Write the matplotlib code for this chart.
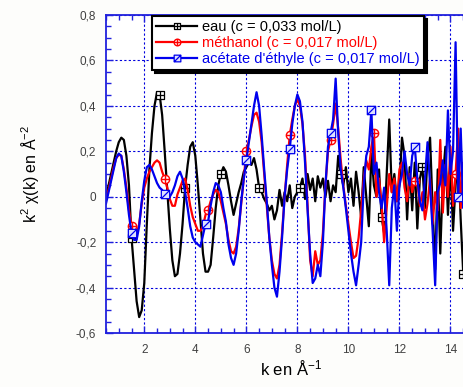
import numpy as np
from matplotlib import pyplot as plt
from matplotlib.path import Path
from matplotlib.ticker import MultipleLocator, FuncFormatter

plt.rcParams['font.family'] = ['Liberation Sans', 'DejaVu Sans']
plt.rcParams['mathtext.fontset'] = 'custom'
plt.rcParams['mathtext.rm'] = 'Liberation Sans'
plt.rcParams['mathtext.it'] = 'Liberation Sans'

# k grid, 0.5 .. 14.9 step 0.1
k = np.round(np.arange(5, 150) / 10.0, 1)

eau = [0.00, 0.05, 0.10, 0.15, 0.20, 0.24, 0.26, 0.25, 0.18, 0.05,
       -0.18, -0.32, -0.46, -0.53, -0.50, -0.38, -0.12, 0.12, 0.28, 0.40,
       0.46, 0.45, 0.36, 0.20, 0.03, -0.14, -0.28, -0.35, -0.34, -0.25,
       -0.12, 0.04, 0.14, 0.22, 0.24, 0.18, 0.05, -0.10, -0.25, -0.33,
       -0.33, -0.30, -0.18, -0.05, 0.05, 0.10, 0.13, 0.11, 0.05, -0.02,
       -0.08, -0.03, 0.02, 0.06, 0.11, 0.13, 0.15, 0.14, 0.17, 0.12,
       0.04, 0.02, -0.01, -0.03, -0.06, -0.04, -0.10, -0.06, 0.03, -0.04,
       0.02, -0.02, 0.05, -0.05, 0.00, 0.02, 0.04, 0.08, -0.01, 0.10,
       0.03, 0.08, -0.02, 0.09, 0.04, 0.08, 0.00, 0.07, -0.02, 0.05,
       0.02, 0.18, 0.10, 0.05, 0.13, 0.02, 0.08, -0.04, 0.11, 0.02,
       -0.09, 0.13, 0.00, -0.13, 0.19, 0.05, 0.00, 0.12, -0.09, -0.16,
       0.10, 0.34, 0.02, 0.10, -0.02, 0.05, 0.26, 0.18, -0.10, 0.13,
       -0.06, 0.15, -0.14, 0.08, 0.13, -0.05, 0.18, 0.26, -0.05, -0.32,
       0.12, -0.25, 0.08, 0.22, -0.08, 0.15, -0.15, 0.05, 0.18, -0.10,
       -0.34, 0.00, 0.12, -0.05, 0.08]

methanol = [-0.01, 0.03, 0.08, 0.13, 0.17, 0.185, 0.18, 0.12, 0.04, -0.06,
            -0.13, -0.16, -0.17, -0.12, -0.03, 0.04, 0.08, 0.11, 0.13, 0.15,
            0.16, 0.15, 0.11, 0.08, 0.04, -0.01, -0.04, -0.04, 0.01, 0.04,
            0.07, 0.08, 0.03, -0.04, -0.09, -0.12, -0.15, -0.15, -0.13, -0.08,
            -0.06, -0.02, 0.01, 0.03, 0.02, -0.02, -0.07, -0.12, -0.19, -0.24,
            -0.25, -0.22, -0.14, -0.03, 0.08, 0.20, 0.25, 0.31, 0.36, 0.37,
            0.33, 0.24, 0.10, -0.04, -0.18, -0.28, -0.34, -0.36, -0.30, -0.16,
            0.00, 0.14, 0.27, 0.34, 0.40, 0.43, 0.40, 0.32, 0.18, -0.04,
            -0.28, -0.35, -0.24, -0.30, -0.28, -0.16, 0.05, 0.20, 0.25, 0.32,
            0.41, 0.30, 0.16, 0.05, -0.04, -0.12, -0.20, -0.27, -0.26, -0.18,
            -0.06, 0.08, 0.16, 0.12, 0.22, 0.28, 0.00, 0.08, -0.03, -0.20,
            -0.05, 0.10, 0.02, 0.08, -0.02, 0.12, 0.15, 0.04, -0.02, 0.10,
            0.02, 0.07, 0.07, -0.04, 0.02, -0.10, -0.03, 0.08, -0.12, 0.02,
            -0.06, 0.25, -0.07, 0.14, 0.00, 0.22, -0.04, 0.10, 0.30, -0.05,
            0.15, -0.08, 0.10, -0.02, 0.05]

acetate = [-0.03, 0.02, 0.07, 0.12, 0.17, 0.19, 0.18, 0.11, 0.02, -0.08,
           -0.16, -0.19, -0.19, -0.13, -0.02, 0.07, 0.13, 0.14, 0.12, 0.09,
           0.06, 0.04, 0.03, 0.01, 0.00, 0.00, 0.02, 0.05, 0.09, 0.11,
           0.08, 0.02, -0.05, -0.13, -0.18, -0.20, -0.21, -0.22, -0.17, -0.12,
           -0.11, -0.04, 0.02, 0.06, 0.05, 0.02, -0.05, -0.11, -0.21, -0.27,
           -0.30, -0.25, -0.15, -0.02, 0.08, 0.16, 0.24, 0.32, 0.40, 0.46,
           0.40, 0.27, 0.12, -0.02, -0.18, -0.30, -0.40, -0.44, -0.33, -0.18,
           0.00, 0.12, 0.21, 0.32, 0.40, 0.45, 0.42, 0.33, 0.15, -0.06,
           -0.25, -0.38, -0.36, -0.30, -0.35, -0.20, 0.05, 0.22, 0.28, 0.34,
           0.52, 0.28, 0.12, 0.04, -0.05, -0.15, -0.25, -0.33, -0.39, -0.30,
           -0.20, 0.05, 0.18, 0.22, 0.38, 0.10, 0.15, 0.02, -0.05, 0.04,
           -0.15, -0.39, -0.05, 0.05, -0.15, 0.05, 0.10, 0.20, 0.10, 0.05,
           0.18, 0.22, 0.08, -0.02, -0.06, 0.08, 0.24, 0.05, -0.15, -0.39,
           0.02, 0.06, 0.16, 0.05, 0.38, 0.10, 0.20, 0.68, 0.00, 0.30,
           -0.05, 0.10, -0.10, 0.15, 0.02]

# marker indices along k
eau_marks = [10, 21, 31, 45, 60, 76, 92, 108, 124, 140]
meth_marks = [10, 23, 40, 55, 72, 88, 105, 121, 137]
acet_marks = [10, 23, 39, 55, 72, 88, 104, 121, 138]

labels = ['eau (c = 0,033 mol/L)',
          'méthanol (c = 0,017 mol/L)',
          "acétate d'éthyle (c = 0,017 mol/L)"]

M, L, C = Path.MOVETO, Path.LINETO, Path.CLOSEPOLY
sq_plus = Path([(-1, -1), (1, -1), (1, 1), (-1, 1), (-1, -1), (0, -1), (0, 1), (-1, 0), (1, 0)],
               [M, L, L, L, C, M, L, M, L])
sq_diag = Path([(-1, -1), (1, -1), (1, 1), (-1, 1), (-1, -1), (-1, -1), (1, 1)],
               [M, L, L, L, C, M, L])
circ = Path.unit_circle()
c_plus = Path(np.concatenate([circ.vertices, [(0, -1), (0, 1), (-1, 0), (1, 0)]]),
              np.concatenate([circ.codes, [M, L, M, L]]))

fig = plt.figure(figsize=(4.64, 3.87), dpi=100)
fig.patch.set_facecolor('#fdfdfb')
ax = fig.add_axes([106 / 464, 54 / 387, 370 / 464, 318 / 387])

ax.plot(k, eau, color='black', lw=1.6, marker=sq_plus, markevery=eau_marks,
        ms=6, mfc='white', mec='black', mew=0.9, label=labels[0])
ax.plot(k, methanol, color='#ff0000', lw=1.6, marker=c_plus, markevery=meth_marks,
        ms=6, mfc='white', mec='#ff0000', mew=1.0, label=labels[1])
ax.plot(k, acetate, color='#0000ee', lw=1.6, marker=sq_diag, markevery=acet_marks,
        ms=6, mfc='#dde0ff', mec='#0000ee', mew=0.9, label=labels[2])

ax.set_xlim(0.5, 15)
ax.set_ylim(-0.6, 0.8)
ax.xaxis.set_major_locator(MultipleLocator(2))
ax.xaxis.set_minor_locator(MultipleLocator(0.5))
ax.yaxis.set_major_locator(MultipleLocator(0.2))
ax.yaxis.set_minor_locator(MultipleLocator(0.05))

def comma(v, pos):
    if abs(v) < 1e-9:
        return '0'
    return ('%g' % round(v, 2)).replace('.', ',')

ax.xaxis.set_major_formatter(FuncFormatter(comma))
ax.yaxis.set_major_formatter(FuncFormatter(comma))

ax.grid(True, which='major', color='#0000dd', linestyle=(0, (2, 2)), lw=0.8)
for s in ax.spines.values():
    s.set_color('#2020dd')
    s.set_linewidth(1.3)
ax.tick_params(which='both', direction='in', top=True, right=True, color='#2020dd',
               labelcolor='#404040', labelsize=8.5, width=1)
ax.tick_params(which='major', length=5)
ax.tick_params(which='minor', length=3.5)
ax.tick_params(axis='y', pad=7)
ax.tick_params(axis='x', pad=8)

ax.set_xlabel('k en Å$^{-1}$', fontsize=12, labelpad=2)
ax.set_ylabel('k$^2$ χ(k) en Å$^{-2}$', fontsize=11.5, labelpad=25)

leg = ax.legend(loc='upper left', bbox_to_anchor=(152 / 464, 1 - 16 / 387),
                bbox_transform=fig.transFigure, borderaxespad=0, fancybox=False,
                framealpha=1, edgecolor='black', labelcolor='linecolor', fontsize=10.5,
                handlelength=2.8, handletextpad=0.35, borderpad=0.3, labelspacing=0.12,
                markerscale=0.8, shadow={'color': 'black', 'alpha': 1})
leg.get_frame().set_linewidth(1.5)

fig.savefig('out.png', dpi=100, facecolor=fig.get_facecolor())
